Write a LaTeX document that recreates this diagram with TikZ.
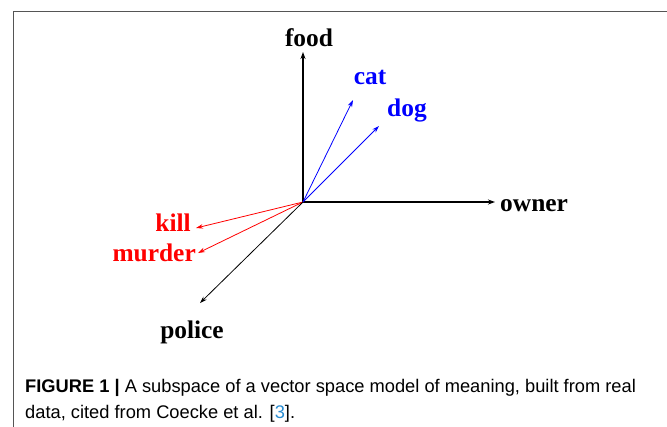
\documentclass[tikz,border=0pt]{standalone}
\usepackage{fontspec}
\setmainfont{Liberation Serif}
\newfontfamily\capfont{Liberation Sans}
\usetikzlibrary{arrows.meta}
\definecolor{framegray}{RGB}{85,85,85}
\definecolor{linkblue}{RGB}{40,140,210}
\tikzset{
  lbl/.style={font=\fontsize{25.5}{28}\selectfont\bfseries, inner sep=0pt},
  axis/.style={line width=1.8bp, -{Stealth[length=7bp,width=5bp]}},
  vec/.style={line width=0.8bp, -{Stealth[length=7bp,width=4.5bp]}},
  captxt/.style={anchor=base west, inner sep=0pt, font=\capfont\fontsize{18.35}{26}\selectfont}
}
\begin{document}
\begin{tikzpicture}[x=1bp,y=-1bp]
\useasboundingbox (0,0) rectangle (667,426);
\draw[framegray, line width=1.6bp] (13.5,430) -- (13.5,11.5) -- (670,11.5);
\coordinate (O) at (303,202);
\coordinate (food) at (303,52);
\coordinate (owner) at (495,202);
\coordinate (cat) at (353,100);
\coordinate (dog) at (379,126);
\coordinate (kill) at (196,228);
\coordinate (murder) at (198,253);
\coordinate (police) at (200,303);
\node[lbl, anchor=base] (foodl) at (309,46) {food};
\node[lbl, anchor=base west] (ownerl) at (500,211) {owner};
\node[lbl, anchor=base, blue] (catl) at (370,84) {cat};
\node[lbl, anchor=base, blue] (dogl) at (407,116) {dog};
\node[lbl, anchor=base east, red] (killl) at (191,231) {kill};
\node[lbl, anchor=base east, red] (murderl) at (196,261) {murder};
\node[lbl, anchor=base] (policel) at (192,338) {police};
\draw[axis] (O) -- (food);
\draw[axis] (O) -- (owner);
\draw[vec, blue] (O) -- (cat);
\draw[vec, blue] (O) -- (dog);
\draw[vec, red] (O) -- (kill);
\draw[vec, red] (O) -- (murder);
\draw[vec] (O) -- (police);
\node[captxt] (cap1) at (25,392) {\textbf{FIGURE 1 |} A subspace of a vector space model of meaning, built from real};
\node[captxt] (cap2) at (25,418) {data, cited from Coecke et al. [{\color{linkblue}3}].};
\end{tikzpicture}
\end{document}
